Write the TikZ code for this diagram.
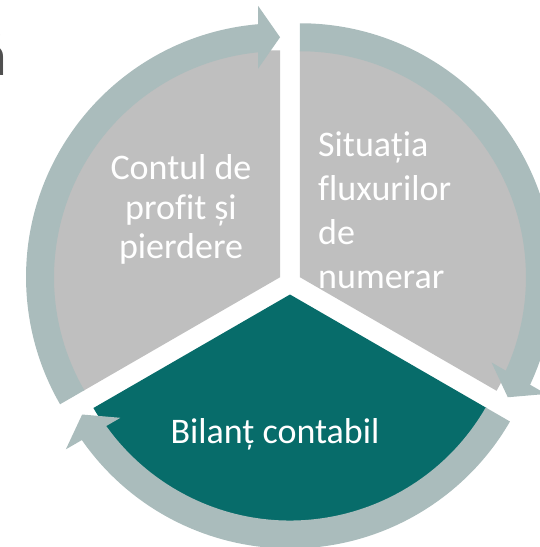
\documentclass[tikz,border=0pt]{standalone}
\usepackage{fontspec}
\setmainfont[Ligatures=NoCommon]{Carlito}
\definecolor{sectgray}{RGB}{191,191,191}
\definecolor{sectteal}{RGB}{7,108,106}
\definecolor{ringc}{RGB}{170,188,188}
\definecolor{titlec}{RGB}{80,80,80}
\tikzset{
  sectorfill/.style={fill=#1, draw=none},
  ringfill/.style={fill=ringc, draw=none},
  lbl/.style={text=white, inner sep=0pt, font=\fontsize{36}{40}\selectfont},
}
\begin{document}
\begin{tikzpicture}[x=1pt,y=1pt]
\useasboundingbox (0,0) rectangle (539,-547);
% sectors (exploded pie, each offset 11.5 along its bisector)
\foreach \cx/\cy/\rot/\col in {280.04/-277.25/0/sectgray, 299.96/-277.25/-120/sectgray, 290/-294.5/120/sectteal}{
  \begin{scope}[shift={(\cx,\cy)}, rotate=\rot]
    \fill[sectorfill=\col] (0,0) -- (90:227) arc[start angle=90, end angle=210, radius=227] -- cycle;
  \end{scope}
}
% circular arrows
\foreach \cx/\cy/\rot in {280.04/-277.25/0, 299.96/-277.25/-120, 290/-294.5/120}{
  \begin{scope}[shift={(\cx,\cy)}, rotate=\rot]
    \fill[ringfill] (210:226) arc[start angle=210, end angle=94, radius=226]
      -- (94:254) arc[start angle=94, end angle=210, radius=254] -- cycle;
    \fill[ringfill] (0,240) -- (-22,271.5) -- (-22,208.5) -- cycle;
  \end{scope}
}
% cropped title letter
\node[anchor=base east, inner sep=0pt, text=titlec, font=\fontsize{60}{60}\selectfont] (title) at (7,-75) {ă};
% left sector text
\node[lbl, anchor=base] (l1) at (181,-179) {Contul de};
\node[lbl, anchor=base] (l2) at (181,-219) {profit și};
\node[lbl, anchor=base] (l3) at (181,-258) {pierdere};
% right sector text
\node[lbl, anchor=base west] (r1) at (318,-156) {Situația};
\node[lbl, anchor=base west] (r2) at (318,-200) {fluxurilor};
\node[lbl, anchor=base west] (r3) at (318,-244) {de};
\node[lbl, anchor=base west] (r4) at (318,-288) {numerar};
% bottom sector text
\node[lbl, anchor=base] (b1) at (275,-443) {Bilanț contabil};
\end{tikzpicture}
\end{document}
